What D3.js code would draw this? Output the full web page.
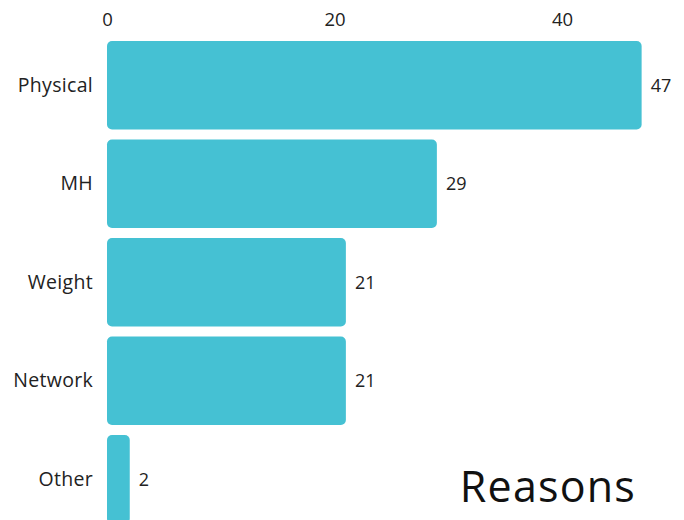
<!DOCTYPE html>
<html>
<head>
<meta charset="utf-8">
<script src="https://cdn.jsdelivr.net/npm/d3@7"></script>
<style>
  html, body { margin: 0; padding: 0; background: #ffffff; }
  svg { display: block; }
</style>
</head>
<body>
<svg id="chart" width="684" height="520"></svg>
<script>
// Reasons given, counts per category
const categories = ["Physical", "MH", "Weight", "Network", "Other"];
const counts = [47, 29, 21, 21, 2];
const tickValues = [0, 20, 40];
const title = "Reasons";

const svg = d3.select("#chart");
const font = "'Open Sans', 'Noto Sans', sans-serif";
const barColor = "#45c1d3";

const x = d3.scaleLinear().domain([0, 20]).range([107, 334.5]);
const y = d3.scaleBand()
  .domain(categories)
  .range([36, 36 + 5 * 98.5])
  .paddingInner(0.1)
  .paddingOuter(0.05);

// top axis: labels only
const xAxis = d3.axisTop(x).tickValues(tickValues).tickSize(0).tickPadding(0);
const gx = svg.append("g").attr("transform", "translate(0,26)").call(xAxis);
gx.select(".domain").remove();
gx.selectAll("text")
  .attr("font-family", font)
  .attr("font-size", 18.5)
  .attr("fill", "#222");

// category labels
const yAxis = d3.axisLeft(y).tickSize(0).tickPadding(14);
const gy = svg.append("g").attr("transform", `translate(${x(0)},0)`).call(yAxis);
gy.select(".domain").remove();
gy.selectAll("text")
  .attr("font-family", font)
  .attr("font-size", 19.5)
  .attr("letter-spacing", 0.3)
  .attr("fill", "#222");

// bars
const data = categories.map((c, i) => ({ c, v: counts[i] }));
svg.append("g").selectAll("rect")
  .data(data)
  .join("rect")
  .attr("x", x(0))
  .attr("y", d => y(d.c))
  .attr("width", d => x(d.v) - x(0))
  .attr("height", y.bandwidth())
  .attr("rx", 5)
  .attr("fill", barColor);

// value labels
svg.append("g").selectAll("text")
  .data(data)
  .join("text")
  .attr("x", d => x(d.v) + 9)
  .attr("y", d => y(d.c) + y.bandwidth() / 2)
  .attr("dy", "0.35em")
  .attr("font-family", font)
  .attr("font-size", 18)
  .attr("fill", "#222")
  .text(d => d.v);

// title
svg.append("text")
  .attr("x", 636)
  .attr("y", 502)
  .attr("text-anchor", "end")
  .attr("font-family", font)
  .attr("font-size", 43)
  .attr("letter-spacing", 1.2)
  .attr("fill", "#111")
  .text(title);
</script>
</body>
</html>
